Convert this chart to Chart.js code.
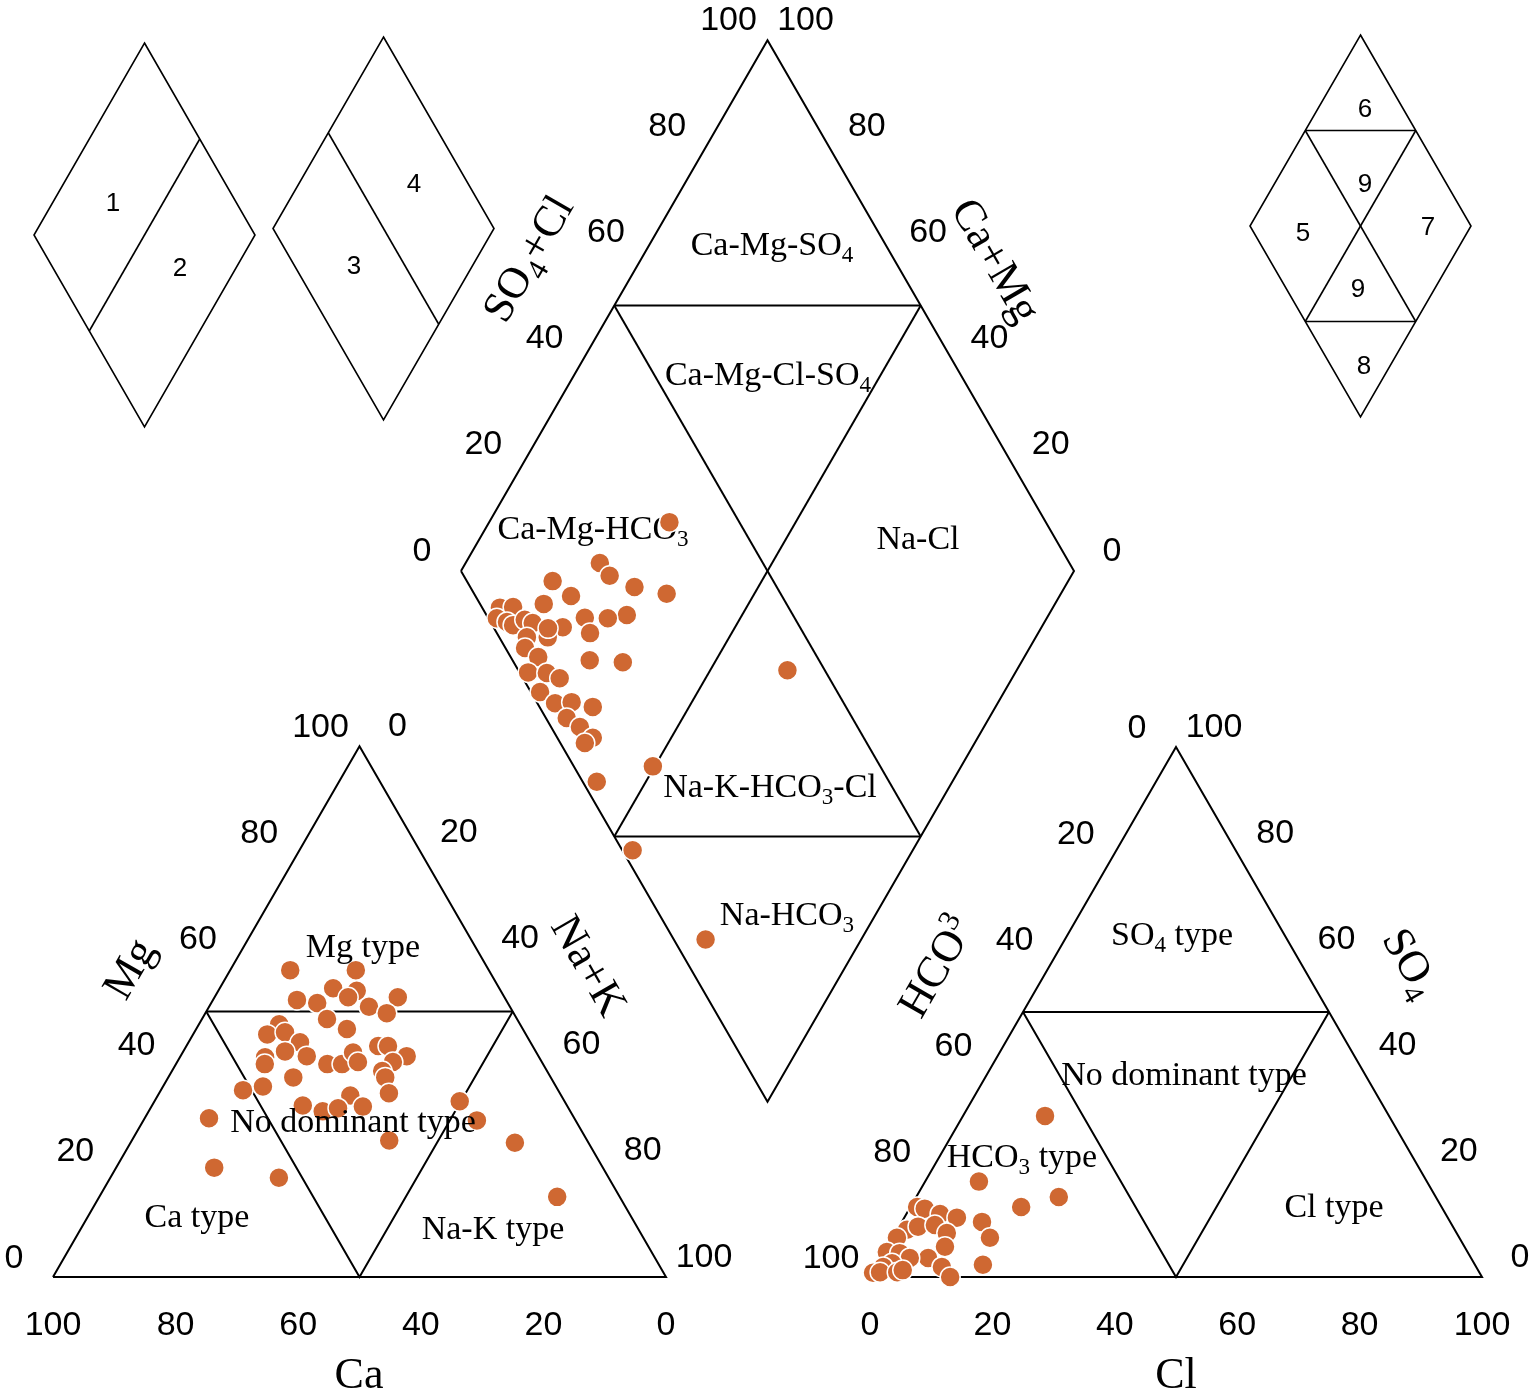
<!DOCTYPE html>
<html><head><meta charset="utf-8">
<script src="https://cdn.jsdelivr.net/npm/chart.js@4.4.0/dist/chart.umd.min.js"></script>
<style>html,body{margin:0;padding:0;background:#fff;overflow:hidden}#wrap{width:1535px;height:1394px}</style>
</head><body><div id="wrap"><canvas id="c" width="1535" height="1394"></canvas></div>
<script>
// ---------- data ----------
const tickValues = [0, 20, 40, 60, 80, 100];
// cation triangle (%): Na+K and Mg (Ca = 100 - Na+K - Mg)
const cationNaK = [9.8,20.5,18.5,22.6,13.7,17.3,21.8,26.1,29.9,29.6,20.4,13.1,24.6,12.1,14.8,18.2,16.6,20.6,13.9,14.5,24.7,27.1,27.8,29.5,31.3,32.9,36.9,35.2,34.3,35.4,20.4,16.3,13.4,31.4,37.5,24.6,28.4,30.6,34.5,10.5,16.0,27.5,42.0,49.8,54.4,62.7,74.7];
const cationMg  = [57.8,57.8,54.4,53.9,52.2,51.6,52.7,50.9,52.7,49.7,48.6,47.6,46.7,45.7,46.1,44.2,42.5,41.6,41.4,40.1,40.1,40.1,42.3,40.5,43.5,43.5,41.6,40.5,38.8,37.6,37.6,35.9,35.2,34.2,34.6,32.3,31.2,31.8,32.1,29.9,20.6,18.7,25.7,33.1,29.5,25.3,15.1];
// anion triangle (%): Cl and SO4 (HCO3 = 100 - Cl - SO4)
const anionCl  = [13.4,8.8,18.1,23.3,13.1,15.9,17.3,1.1,2.5,5.5,8.6,1.6,3.1,5.7,8.4,0.7,9.4,7.7,0.4,2.6,4.7,2.3,10.8,13.1,1.2,0.1,1.2,4.0,4.7];
const anionSO4 = [30.4,18.0,13.2,15.1,10.4,7.4,2.3,13.2,12.9,11.9,11.2,8.9,9.5,9.8,8.3,7.4,5.7,3.6,4.7,4.5,3.6,2.6,1.9,0,1.9,0.8,0.9,0.9,1.3];
// diamond (%): Na+K and SO4+Cl
const diamondNaK   = [29.4,21.9,24.7,15.9,29.8,35.7,20.3,16.6,9.8,11.9,10.3,12.3,13.6,15.0,16.6,31.2,28.4,24.6,26.9,21.9,20.4,19.6,17.0,17.7,20.7,29.4,35.0,20.5,23.6,26.2,24.3,27.8,30.4,34.3,31.1,34.1,37.2,36.4,49.7,42.0,54.3,74.6,62.6];
const diamondSO4Cl = [38.6,23.4,23.8,14.0,26.8,31.4,15.6,10.4,2.9,5.1,1.4,2.7,3.4,5.8,6.8,22.9,19.5,15.8,15.2,11.3,7.9,8.8,4.5,3.2,4.5,12.6,17.8,1.4,4.4,6.0,1.5,2.9,5.7,8.7,3.4,4.7,5.8,4.0,12.9,2.3,1.7,5.2,43.9];

// ---------- layout ----------
const R3 = Math.sqrt(3) / 2;
const CAT = {x0: 53, y0: 1277, side: 613};
const AN  = {x0: 870, y0: 1277, side: 612};
const DIA = {x0: 461, y0: 571, side: 613};
function tri(T, right, top) { return {x: T.x0 + (right + top / 2) / 100 * T.side, y: T.y0 - top / 100 * T.side * R3}; }
const cat = (nak, mg) => tri(CAT, nak, mg);
const an  = (cl, so4) => tri(AN, cl, so4);
function dia(nak, sc) { return {x: DIA.x0 + (nak + sc) / 100 * DIA.side / 2, y: DIA.y0 + (nak - sc) / 100 * DIA.side * R3}; }

const PT = 'rgb(207,104,50)';
const SERIF = '"Liberation Serif","Times New Roman",serif';
const SANS = '"Liberation Sans",Arial,sans-serif';

function lineDS(pts) { return {data: pts, showLine: true, borderColor: '#000', borderWidth: 2, pointRadius: 0, borderJoinStyle: 'miter', order: 2, clip: false}; }
function ptDS(pts) { return {data: pts, showLine: false, backgroundColor: PT, borderColor: '#fff', borderWidth: 1.5, pointRadius: 10, pointHoverRadius: 10, order: 1, clip: false}; }

const frames = [
  [cat(0,0), cat(100,0), cat(0,100), cat(0,0)], [cat(0,50), cat(50,50)], [cat(0,50), cat(50,0), cat(50,50)],
  [an(0,0), an(100,0), an(0,100), an(0,0)], [an(0,50), an(50,50)], [an(0,50), an(50,0), an(50,50)],
  [dia(0,0), dia(100,0), dia(100,100), dia(0,100), dia(0,0)],
  [dia(0,50), dia(50,100)], [dia(50,0), dia(100,50)], [dia(0,50), dia(100,50)], [dia(50,100), dia(50,0)]
];

const datasets = frames.map(lineDS);
datasets.push(ptDS(cationNaK.map((v, i) => cat(v, cationMg[i]))));
datasets.push(ptDS(anionCl.map((v, i) => an(v, anionSO4[i]))));
datasets.push(ptDS(diamondNaK.map((v, i) => dia(v, diamondSO4Cl[i]))));

// ---------- text helpers ----------
function rich(ctx, str, x, y, size, family, rot) {
  const segs = []; let buf = '';
  for (let i = 0; i < str.length; i++) {
    const c = str[i];
    if ((c === '_' || c === '^') && i + 1 < str.length) {
      if (buf) { segs.push({t: buf, m: 0}); buf = ''; }
      segs.push({t: str[i + 1], m: c === '_' ? 1 : -1}); i++;
    } else buf += c;
  }
  if (buf) segs.push({t: buf, m: 0});
  ctx.save(); ctx.translate(x, y); ctx.rotate((rot || 0) * Math.PI / 180);
  ctx.textBaseline = 'alphabetic'; ctx.textAlign = 'left'; ctx.fillStyle = '#000';
  let total = 0;
  segs.forEach(s => { s.fs = s.m ? size * 0.68 : size; ctx.font = s.fs + 'px ' + family; s.w = ctx.measureText(s.t).width; total += s.w; });
  let cx = -total / 2; const base = size * 0.34;
  segs.forEach(s => { ctx.font = s.fs + 'px ' + family; const dy = s.m === 1 ? size * 0.22 : s.m === -1 ? -size * 0.36 : 0; ctx.fillText(s.t, cx, base + dy); cx += s.w; });
  ctx.restore();
}

const triLabels = [
  ['Mg type', 363, 945], ['No dominant type', 353, 1120], ['Ca type', 197, 1215], ['Na-K type', 493, 1227],
  ['SO_4 type', 1172, 933], ['No dominant type', 1184, 1073], ['HCO_3 type', 1022, 1155], ['Cl type', 1334, 1205]
];
const diaLabels = [
  ['Ca-Mg-SO_4', 772, 243], ['Ca-Mg-Cl-SO_4', 768, 373], ['Ca-Mg-HCO_3', 593, 527], ['Na-Cl', 918, 537],
  ['Na-K-HCO_3-Cl', 770, 785], ['Na-HCO_3', 787, 913]
];
const titles = [
  ['Ca', 359, 1373, 0], ['Cl', 1176, 1373, 0],
  ['SO_4+Cl', 527, 258, -60], ['Ca+Mg', 997, 260, 60],
  ['Mg', 128, 968, -60], ['Na+K', 590, 965, 60],
  ['HCO^3', 935, 966, -60], ['SO_4', 1412, 962, 60]
];

function tickLabels(ctx, sx, sy) {
  const items = [];
  tickValues.forEach(v => {
    items.push([v, cat(0, v), -39, -21]);          // Mg
    items.push([v, cat(v, 100 - v), 38, -22]);     // Na+K
    items.push([v, cat(100 - v, 0), 0, 46]);       // Ca
    items.push([v, an(0, 100 - v), -39, -21]);     // HCO3
    items.push([v, an(100 - v, v), 38, -22]);      // SO4
    items.push([v, an(v, 0), 0, 46]);              // Cl
    items.push([v, dia(0, v), -39, -22]);          // SO4+Cl
    items.push([v, dia(100 - v, 100), 38, -22]);   // Ca+Mg
  });
  items.forEach(([v, p, dx, dy]) => rich(ctx, String(v), sx.getPixelForValue(p.x) + dx, sy.getPixelForValue(p.y) + dy, 34, SANS, 0));
}

function smallDiamond(ctx, cx, top, bottom, hw) {
  const cy = (top + bottom) / 2;
  const T = [cx, top], B = [cx, bottom], L = [cx - hw, cy], Rr = [cx + hw, cy];
  const mid = (a, b) => [(a[0] + b[0]) / 2, (a[1] + b[1]) / 2];
  ctx.beginPath(); ctx.moveTo(...T); ctx.lineTo(...Rr); ctx.lineTo(...B); ctx.lineTo(...L); ctx.closePath(); ctx.stroke();
  return {T, B, L, R: Rr, ul: mid(L, T), ur: mid(T, Rr), ll: mid(L, B), lr: mid(B, Rr)};
}
function seg(ctx, a, b) { ctx.beginPath(); ctx.moveTo(...a); ctx.lineTo(...b); ctx.stroke(); }

const textPlugin = {
  id: 'piperText',
  beforeDatasetsDraw(chart) {
    const ctx = chart.ctx;
    diaLabels.forEach(([t, x, y]) => rich(ctx, t, x, y, 34, SERIF, 0));
  },
  afterDatasetsDraw(chart) {
    const ctx = chart.ctx; const sx = chart.scales.x, sy = chart.scales.y;
    triLabels.forEach(([t, x, y]) => rich(ctx, t, x, y, 34, SERIF, 0));
    titles.forEach(([t, x, y, r]) => rich(ctx, t, x, y, 44, SERIF, r));
    tickLabels(ctx, sx, sy);
    // legend diamonds
    ctx.save(); ctx.strokeStyle = '#000'; ctx.lineWidth = 1.6; ctx.lineJoin = 'miter';
    const d1 = smallDiamond(ctx, 144.5, 43, 427, 110.5); seg(ctx, d1.ll, d1.ur);
    const d2 = smallDiamond(ctx, 383.5, 37, 420, 110.5); seg(ctx, d2.ul, d2.lr);
    const d3 = smallDiamond(ctx, 1360.5, 35, 417, 110.5);
    seg(ctx, d3.ul, d3.ur); seg(ctx, d3.ll, d3.lr); seg(ctx, d3.ul, d3.lr); seg(ctx, d3.ur, d3.ll);
    ctx.restore();
    [['1',113,202],['2',180,267],['4',414,183],['3',354,265],['6',1365,108],['9',1365,183],['5',1303,232],['7',1428,226],['9',1358,288],['8',1364,365]]
      .forEach(([t, x, y]) => rich(ctx, t, x, y, 26, SANS, 0));
  }
};

new Chart(document.getElementById('c'), {
  type: 'scatter',
  data: {datasets},
  options: {
    responsive: false, animation: false, devicePixelRatio: 1,
    layout: {padding: 0, autoPadding: false},
    events: [],
    scales: {
      x: {type: 'linear', min: 0, max: 1535, display: false},
      y: {type: 'linear', min: 0, max: 1394, reverse: true, display: false}
    },
    plugins: {legend: {display: false}, tooltip: {enabled: false}}
  },
  plugins: [textPlugin]
});
</script></body></html>
